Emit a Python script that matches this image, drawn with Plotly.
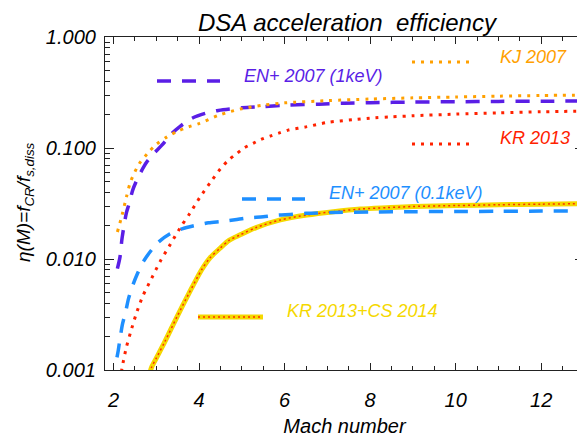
import plotly.graph_objects as go

# --- data ---
mach_kj = [2.09, 2.2, 2.3, 2.4, 2.6, 2.8, 3.0, 3.25, 3.5, 3.75, 4.0, 4.5, 5.0, 5.5, 6.0, 7.0, 8.0, 9.0, 10.0, 11.0, 12.0, 13.0]
eta_kj = [0.0175, 0.025, 0.036, 0.05, 0.072, 0.09, 0.108, 0.126, 0.142, 0.155, 0.166, 0.2, 0.226, 0.243, 0.255, 0.267, 0.276, 0.283, 0.288, 0.293, 0.297, 0.30]

mach_en1 = [2.09, 2.15, 2.2, 2.3, 2.37, 2.45, 2.58, 2.78, 2.93, 3.13, 3.36, 3.55, 3.83, 4.14, 4.45, 5.0, 5.5, 6.1, 6.8, 7.4, 8.0, 9.0, 10.0, 11.0, 12.0, 13.0]
eta_en1 = [0.0082, 0.0104, 0.0155, 0.026, 0.032, 0.042, 0.055, 0.075, 0.088, 0.106, 0.135, 0.156, 0.185, 0.205, 0.218, 0.23, 0.236, 0.244, 0.248, 0.253, 0.256, 0.259, 0.261, 0.263, 0.264, 0.265]

mach_kr = [2.15, 2.2, 2.3, 2.4, 2.53, 2.68, 2.89, 3.09, 3.32, 3.55, 3.79, 4.02, 4.28, 4.5, 4.69, 4.88, 5.05, 5.26, 5.44, 5.66, 5.86, 6.08, 6.5, 7.0, 7.6, 8.1, 8.5, 9.0, 10.0, 11.0, 12.0, 13.0]
eta_kr = [0.0008, 0.00105, 0.0016, 0.0022, 0.0032, 0.0046, 0.0067, 0.0095, 0.0134, 0.0189, 0.026, 0.036, 0.05, 0.065, 0.078, 0.089, 0.1, 0.11, 0.119, 0.128, 0.136, 0.145, 0.155, 0.17, 0.18, 0.187, 0.191, 0.195, 0.202, 0.207, 0.212, 0.215]

mach_en01 = [2.08, 2.11, 2.15, 2.21, 2.28, 2.35, 2.45, 2.56, 2.7, 2.89, 3.05, 3.32, 3.6, 3.95, 4.22, 4.53, 4.84, 5.15, 5.5, 5.82, 6.13, 6.5, 7.1, 8.0, 9.0, 10.0, 11.0, 12.0, 13.0]
eta_en01 = [0.0013, 0.0015, 0.0019, 0.0026, 0.0033, 0.0044, 0.0058, 0.0074, 0.0095, 0.0121, 0.0142, 0.0169, 0.0187, 0.0202, 0.0212, 0.0218, 0.0226, 0.0235, 0.024, 0.0248, 0.0252, 0.0258, 0.0262, 0.0265, 0.0267, 0.0268, 0.0269, 0.027, 0.027]

mach_krcs = [2.85, 2.89, 3.0, 3.2, 3.48, 3.75, 4.06, 4.25, 4.49, 4.7, 4.96, 5.35, 5.9, 6.52, 7.14, 7.77, 8.39, 9.0, 10.0, 11.0, 12.0, 13.0]
eta_krcs = [0.00094, 0.00106, 0.00128, 0.0018, 0.003, 0.0048, 0.008, 0.0102, 0.0125, 0.0147, 0.0165, 0.0193, 0.0225, 0.0249, 0.0267, 0.0282, 0.029, 0.0297, 0.0303, 0.0308, 0.0312, 0.0315]

x_ticks = [2, 4, 6, 8, 10, 12]
y_ticks = [0.001, 0.01, 0.1, 1.0]
y_ticktext = ["0.001", "0.010", "0.100", "1.000"]
y_minor = [m * 10.0 ** e for e in (-3, -2, -1) for m in range(2, 10)]

FONT = "Liberation Sans"
C_EN1 = "#5a1ee6"
C_KJ = "#ffa000"
C_KR = "#ff2200"
C_EN01 = "#1e8fff"
C_KRCS = "#f5d800"

# the page body adds an 8px margin, so the figure is 8px smaller and laid out in page pixels minus 8
OFF = 8
W, H = 585 - OFF, 446 - OFF
L, R, T, B = 105 - OFF, 584 - OFF, 37 - OFF, 370 - OFF


def paper(px, py):
    # page pixel -> paper fraction
    return (px - OFF - L) / (R - L), (B - (py - OFF)) / (B - T)


def curve(x, y, **line):
    return go.Scatter(x=x, y=y, mode="lines", line=dict(shape="spline", smoothing=0.8, **line))


fig = go.Figure()
fig.add_trace(curve(mach_krcs, eta_krcs, color=C_KRCS, width=5))
fig.add_trace(curve(mach_krcs, eta_krcs, color="#ff3000", width=1.5, dash="2px,3px"))
fig.add_trace(curve(mach_en01, eta_en01, color=C_EN01, width=3.5, dash="14px,11px"))
fig.add_trace(curve(mach_kr, eta_kr, color=C_KR, width=3, dash="3px,6px"))
fig.add_trace(curve(mach_en1, eta_en1, color=C_EN1, width=3.5, dash="14px,11px"))
fig.add_trace(curve(mach_kj, eta_kj, color=C_KJ, width=3, dash="3px,6px"))

# legend entries: sample line + label (page pixel positions)
legend = [
    ("EN+ 2007 (1keV)", C_EN1, "14px,11px", 3.5, 157, 220, 81, 242, 76),
    ("KJ 2007", C_KJ, "3px,6px", 3, 412, 472, 62, 498, 57),
    ("KR 2013", C_KR, "3px,6px", 3, 412, 472, 144, 498, 138),
    ("EN+ 2007 (0.1keV)", C_EN01, "14px,11px", 3.5, 242, 305, 199, 327, 193),
    ("KR 2013+CS 2014", C_KRCS, "solid", 5, 198, 263, 317, 285, 311),
]
for name, col, dash, w, x0, x1, ys, xt, yt in legend:
    a0, b0 = paper(x0, ys)
    a1, _ = paper(x1, ys)
    fig.add_shape(type="line", xref="paper", yref="paper", x0=a0, x1=a1, y0=b0, y1=b0,
                  line=dict(color=col, width=w, dash=dash))
    if name.startswith("KR 2013+"):
        fig.add_shape(type="line", xref="paper", yref="paper", x0=a0, x1=a1, y0=b0, y1=b0,
                      line=dict(color="#ff3000", width=1.5, dash="2px,3px"))
    ta, tb = paper(xt, yt)
    fig.add_annotation(text=name, xref="paper", yref="paper", x=ta, y=tb, xanchor="left", yanchor="middle",
                       showarrow=False, font=dict(family=FONT, size=18, color=col, style="italic"))

# y-axis title placed by hand, further out than plotly's standoff allows
ya, yb = paper(25, 202)
fig.add_annotation(text="η(M)=f<sub>CR</sub>/f<sub>s,diss</sub>", xref="paper", yref="paper", x=ya, y=yb,
                   xanchor="center", yanchor="middle", textangle=-90, showarrow=False,
                   font=dict(family=FONT, size=19, color="black", style="italic"))

axis_common = dict(showline=True, linecolor="#222", linewidth=1.2, mirror="ticks", showgrid=False, zeroline=False,
                   ticks="inside", tickcolor="#222", automargin=False,
                   tickfont=dict(family=FONT, size=20, color="black", style="italic"))

fig.update_xaxes(range=[1.8, 13.0], tickvals=x_ticks, ticklen=7, ticklabelstandoff=12,
                 minor=dict(ticks="inside", dtick=0.5, ticklen=4, tickcolor="#222"),
                 title=dict(text="Mach number", font=dict(family=FONT, size=20, color="black", style="italic"), standoff=8),
                 **axis_common)
fig.update_yaxes(type="log", range=[-3, 0], tickvals=y_ticks, ticktext=y_ticktext, ticklen=9, ticklabelstandoff=4,
                 minor=dict(ticks="inside", tickmode="array", tickvals=y_minor, ticklen=5, tickcolor="#222"),
                 **axis_common)

fig.update_layout(
    width=W, height=H,
    margin=dict(l=L, r=W - R, t=T, b=H - B, autoexpand=False),
    paper_bgcolor="white", plot_bgcolor="white",
    showlegend=False,
    title=dict(text="DSA acceleration\u00a0 efficiency", x=(347 - OFF) / W, xanchor="center",
               y=1 - 6 / H, yanchor="top", pad=dict(t=0, b=0),
               font=dict(family=FONT, size=24, color="black", style="italic")),
)

fig.write_html("out.html")
